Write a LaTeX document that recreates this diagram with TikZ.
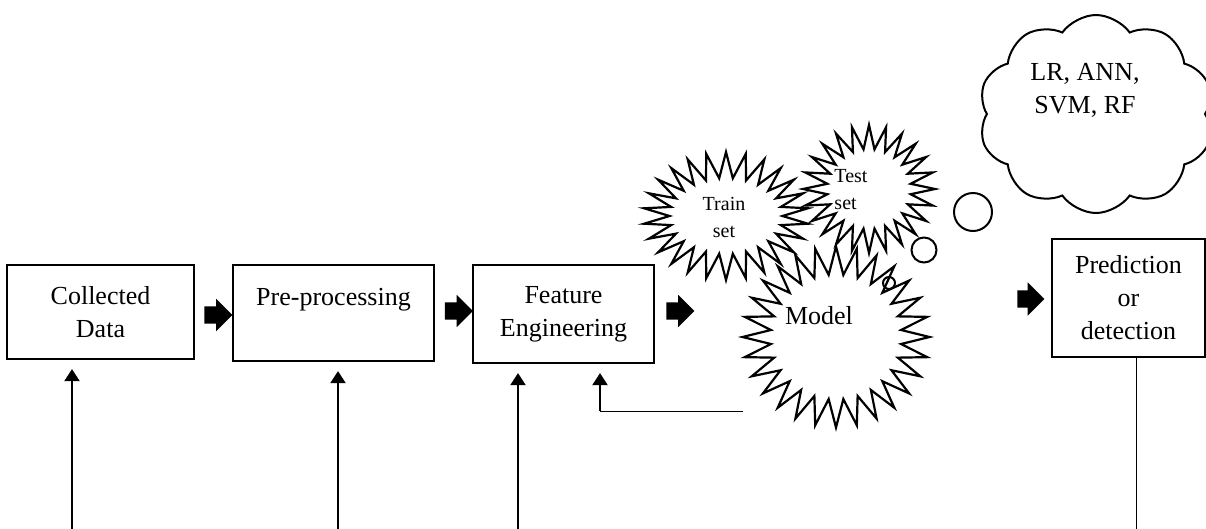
\documentclass[tikz,border=0pt]{standalone}
\usepackage{fontspec}
\setmainfont{Liberation Serif}
\usetikzlibrary{shapes.symbols,shapes.arrows,arrows.meta}

\begin{document}
\begin{tikzpicture}[x=1pt,y=-1pt,
  every node/.style={font=\fontsize{26}{33}\selectfont},
  box/.style={draw, line width=2.2pt, align=center, inner sep=0pt},
  blockarrow/.style={single arrow, fill=black, draw=none, inner xsep=0pt, inner ysep=8.5pt,
    minimum height=28pt, single arrow head extend=7.5pt},
  burst/.style={starburst, draw, line width=2.2pt, random starburst=0, inner sep=0pt},
  bubble/.style={circle, draw, line width=2pt, inner sep=0pt},
  feed/.style={line width=2pt, -{Triangle[width=15pt,length=12pt]}, shorten >=9pt},
  lbl/.style={align=center, inner sep=0pt}
]
\useasboundingbox (0,0) rectangle (1206,528);
\clip (0,0) rectangle (1206,528);

% pipeline boxes
\node[box, minimum width=187pt, minimum height=94pt]  (collected) at (100.5,312) {Collected\\Data};
\node[box, minimum width=201pt, minimum height=96pt]  (prep)      at (333.5,313) {Pre-processing\\\mbox{}};
\node[box, minimum width=181pt, minimum height=98pt]  (feat)      at (563.5,314) {Feature\\Engineering};
\node[box, minimum width=153pt, minimum height=118pt] (pred)      at (1128.5,298) {Prediction\\or\\detection};

% block arrows between the stages
\node[blockarrow] (a1) at (214,315) {};
\node[blockarrow] (a2) at (454.5,311) {};
\node[blockarrow] (a3) at (676,311) {};
\node[blockarrow, minimum height=27pt, single arrow head extend=8pt] (a4) at (1026.5,299) {};

% data sets and model
\node[burst, starburst points=26, starburst point height=26pt, minimum width=165pt, minimum height=128pt] (train) at (726,216) {};
\node[burst, starburst points=24, starburst point height=24pt, minimum width=132pt, minimum height=128pt] (test) at (869,189) {};
\node[burst, starburst points=28, starburst point height=28pt, minimum width=187pt, minimum height=181pt] (model) at (836,337) {};
\node[lbl, font=\fontsize{20}{27}\selectfont] (traintext) at (724,217) {Train\\set};
\node[lbl, align=left, font=\fontsize{20}{27}\selectfont] (testtext) at (851,190) {Test\\set};
\node[lbl] (modeltext) at (819,316) {Model};

% thought bubble with the algorithms
\node[bubble, minimum size=12pt] (b1) at (889,283) {};
\node[bubble, minimum size=25pt] (b2) at (924,250) {};
\node[bubble, minimum size=38pt] (b3) at (973,212) {};
\node[cloud, draw, line width=2pt, cloud puffs=10, cloud puff arc=110, aspect=1.2,
      minimum width=235pt, minimum height=198pt, inner sep=0pt] (cloud) at (1096,114) {};
\node[lbl] (cloudtext) at (1085,90) {LR, ANN,\\SVM, RF};

% inputs from below
\coordinate (s1) at (72,530);
\coordinate (s2) at (338,530);
\coordinate (s3) at (518,530);
\draw[feed] (s1) -- (s1 |- collected.south);
\draw[feed] (s2) -- (s2 |- prep.south);
\draw[feed] (s3) -- (s3 |- feat.south);

% feedback from the model to feature engineering
\coordinate (fb) at (743,411);
\coordinate (fbc) at (600,411);
\draw[line width=1pt] (fb) -- (fbc);
\draw[feed] (fbc) -- (fbc |- feat.south);

% output line
\coordinate (pe) at (1136,530);
\draw[line width=1pt] (pe |- pred.south) -- (pe);
\end{tikzpicture}
\end{document}
